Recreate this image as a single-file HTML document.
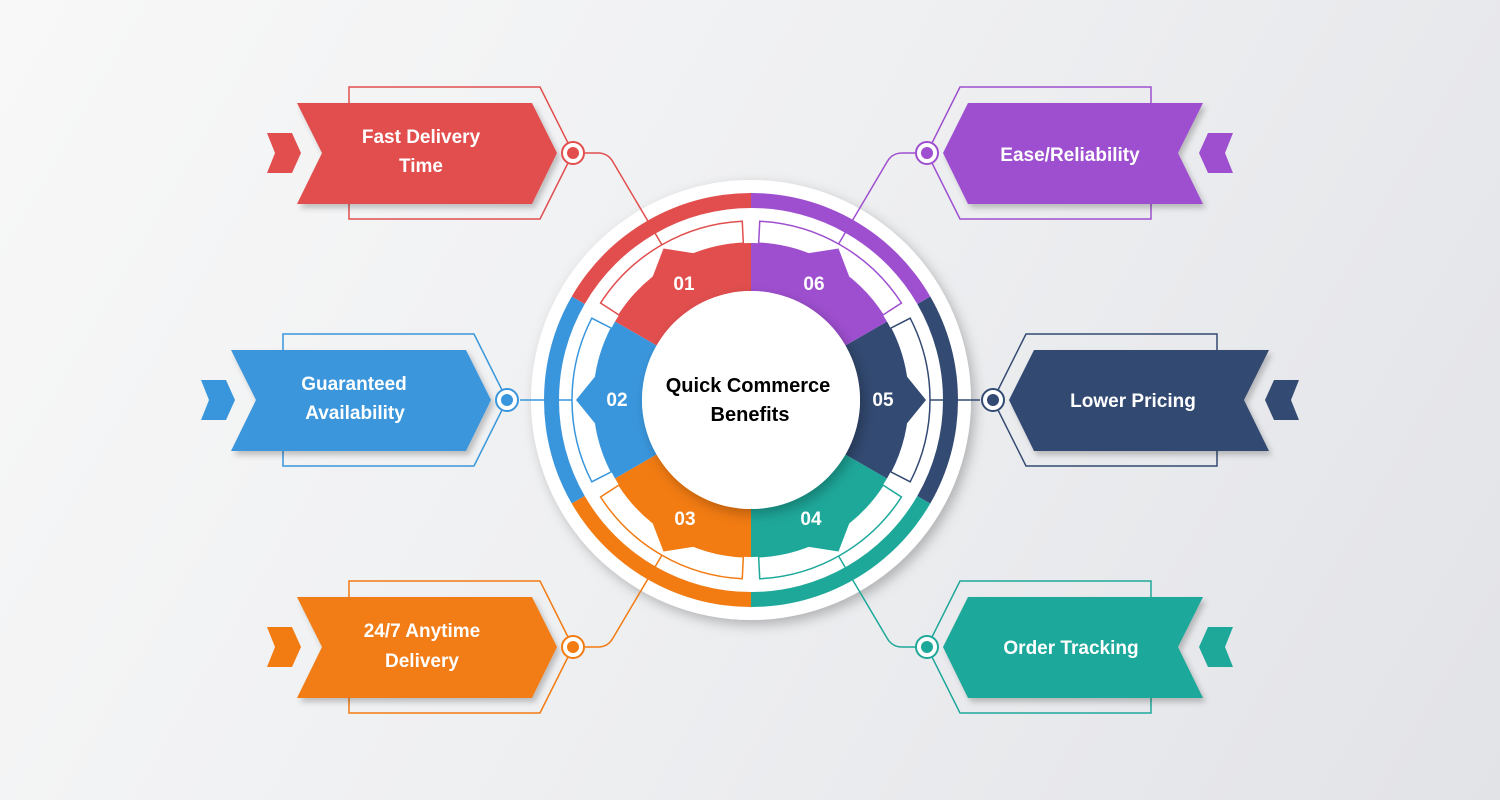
<!DOCTYPE html>
<html><head><meta charset="utf-8">
<style>
html,body{margin:0;padding:0;width:1500px;height:800px;overflow:hidden}
body{background:linear-gradient(120deg,#f8f8f8 0%,#eeeff1 50%,#e2e3e7 100%)}
svg{position:absolute;left:0;top:0}
text{font-family:"Liberation Sans",Arial,sans-serif;font-weight:bold}
</style></head><body>
<svg id="s" width="1500" height="800" viewBox="0 0 1500 800">
<defs>
<filter id="sh" x="-20%" y="-20%" width="140%" height="150%"><feDropShadow dx="3" dy="4" stdDeviation="3" flood-color="#000" flood-opacity="0.22"/></filter>
<filter id="shm" x="-20%" y="-20%" width="140%" height="150%"><feDropShadow dx="-3" dy="4" stdDeviation="3" flood-color="#000" flood-opacity="0.22"/></filter>
<filter id="sh2" x="-20%" y="-20%" width="140%" height="140%"><feDropShadow dx="4" dy="5" stdDeviation="6" flood-color="#000" flood-opacity="0.25"/></filter>
</defs>
<circle cx="751" cy="400" r="220" fill="#fff" filter="url(#sh2)"/>
<g id="lines" fill="none" stroke-width="1.5">
<path d="M585,153 L598,153 Q608,153 613,162 L665,250" stroke="#e24e4e"/>
<path d="M915,153 L902,153 Q892,153 887,162 L835,250" stroke="#9e4fcf"/>
<path d="M585,647 L598,647 Q608,647 613,638 L665,550" stroke="#f27b12"/>
<path d="M915,647 L902,647 Q892,647 887,638 L835,550" stroke="#1ea89a"/>
<path d="M520,400 L600,400" stroke="#3a96dc"/>
<path d="M980,400 L900,400" stroke="#334a72"/>
</g>
<g id="ring"></g>
<g id="outl" fill="#fff" stroke-width="1.5"></g>
<g id="sect"></g>
<circle cx="751" cy="400" r="109" fill="#fff" filter="url(#sh2)"/>
<g font-size="19" fill="#fff" text-anchor="middle">
<text x="684" y="290">01</text>
<text x="617" y="406">02</text>
<text x="685" y="525">03</text>
<text x="811" y="525">04</text>
<text x="883" y="406">05</text>
<text x="814" y="290">06</text>
</g>
<g font-size="20" fill="#000" text-anchor="middle">
<text x="748" y="392">Quick Commerce</text>
<text x="750" y="421">Benefits</text>
</g>

<g>
<polygon points="349,87 540,87 573,153 540,219 349,219" fill="none" stroke="#e24e4e" stroke-width="1.5"/>
<polygon points="267,133 292,133 301,153 292,173 267,173 275,153" fill="#e24e4e"/>
<polygon points="297,103 532,103 557,153 532,204 297,204 322,153" fill="#e24e4e" filter="url(#sh)"/>
<circle cx="573" cy="153" r="11" fill="#fff" stroke="#e24e4e" stroke-width="2"/><circle cx="573" cy="153" r="6" fill="#e24e4e"/>
</g>
<g transform="translate(-66,247)">
<polygon points="349,87 540,87 573,153 540,219 349,219" fill="none" stroke="#3a96dc" stroke-width="1.5"/>
<polygon points="267,133 292,133 301,153 292,173 267,173 275,153" fill="#3a96dc"/>
<polygon points="297,103 532,103 557,153 532,204 297,204 322,153" fill="#3a96dc" filter="url(#sh)"/>
<circle cx="573" cy="153" r="11" fill="#fff" stroke="#3a96dc" stroke-width="2"/><circle cx="573" cy="153" r="6" fill="#3a96dc"/>
</g>
<g transform="translate(0,494)">
<polygon points="349,87 540,87 573,153 540,219 349,219" fill="none" stroke="#f27b12" stroke-width="1.5"/>
<polygon points="267,133 292,133 301,153 292,173 267,173 275,153" fill="#f27b12"/>
<polygon points="297,103 532,103 557,153 532,204 297,204 322,153" fill="#f27b12" filter="url(#sh)"/>
<circle cx="573" cy="153" r="11" fill="#fff" stroke="#f27b12" stroke-width="2"/><circle cx="573" cy="153" r="6" fill="#f27b12"/>
</g>
<g transform="translate(1500,0) scale(-1,1)">
<polygon points="349,87 540,87 573,153 540,219 349,219" fill="none" stroke="#9e4fcf" stroke-width="1.5"/>
<polygon points="267,133 292,133 301,153 292,173 267,173 275,153" fill="#9e4fcf"/>
<polygon points="297,103 532,103 557,153 532,204 297,204 322,153" fill="#9e4fcf" filter="url(#shm)"/>
<circle cx="573" cy="153" r="11" fill="#fff" stroke="#9e4fcf" stroke-width="2"/><circle cx="573" cy="153" r="6" fill="#9e4fcf"/>
</g>
<g transform="translate(1566,247) scale(-1,1)">
<polygon points="349,87 540,87 573,153 540,219 349,219" fill="none" stroke="#334a72" stroke-width="1.5"/>
<polygon points="267,133 292,133 301,153 292,173 267,173 275,153" fill="#334a72"/>
<polygon points="297,103 532,103 557,153 532,204 297,204 322,153" fill="#334a72" filter="url(#shm)"/>
<circle cx="573" cy="153" r="11" fill="#fff" stroke="#334a72" stroke-width="2"/><circle cx="573" cy="153" r="6" fill="#334a72"/>
</g>
<g transform="translate(1500,494) scale(-1,1)">
<polygon points="349,87 540,87 573,153 540,219 349,219" fill="none" stroke="#1ea89a" stroke-width="1.5"/>
<polygon points="267,133 292,133 301,153 292,173 267,173 275,153" fill="#1ea89a"/>
<polygon points="297,103 532,103 557,153 532,204 297,204 322,153" fill="#1ea89a" filter="url(#shm)"/>
<circle cx="573" cy="153" r="11" fill="#fff" stroke="#1ea89a" stroke-width="2"/><circle cx="573" cy="153" r="6" fill="#1ea89a"/>
</g>

<g font-size="19" fill="#fff" text-anchor="middle">
<text x="421" y="143">Fast Delivery</text>
<text x="421" y="172">Time</text>
<text x="354" y="390">Guaranteed</text>
<text x="355" y="419">Availability</text>
<text x="422" y="637">24/7 Anytime</text>
<text x="422" y="667">Delivery</text>
<text x="1070" y="161">Ease/Reliability</text>
<text x="1133" y="407">Lower Pricing</text>
<text x="1071" y="654">Order Tracking</text>
</g>
</svg>
<script>
(function(){
var cx=751,cy=400,NS="http://www.w3.org/2000/svg";
function P(r,a){a=a*Math.PI/180;return [(cx+r*Math.cos(a)).toFixed(2),(cy-r*Math.sin(a)).toFixed(2)];}
function ann(r1,r2,a1,a2){var p1=P(r2,a1),p2=P(r2,a2),p3=P(r1,a2),p4=P(r1,a1);
return "M"+p1+" A"+r2+","+r2+" 0 0 0 "+p2+" L"+p3+" A"+r1+","+r1+" 0 0 1 "+p4+" Z";}
function sect(a1,a2){var m=(a1+a2)/2,r1=109,r2=157;
var p1=P(r2,a1),s1=P(r2,m-9),t=P(175,m),s2=P(r2,m+9),p2=P(r2,a2),p3=P(r1,a2),p4=P(r1,a1);
return "M"+p1+" A"+r2+","+r2+" 0 0 0 "+s1+" L"+t+" L"+s2+" A"+r2+","+r2+" 0 0 0 "+p2+" L"+p3+" A"+r1+","+r1+" 0 0 1 "+p4+" Z";}
var S=[["#e24e4e",90,150],["#3a96dc",150,210],["#f27b12",210,270],["#1ea89a",270,330],["#334a72",330,390],["#9e4fcf",30,90]];
function add(g,d,attrs){var e=document.createElementNS(NS,"path");e.setAttribute("d",d);for(var k in attrs)e.setAttribute(k,attrs[k]);document.getElementById(g).appendChild(e);}
S.forEach(function(s){
add("ring",ann(192,207,s[1],s[2]),{fill:s[0]});
add("outl",ann(157,179,s[1]+2.8,s[2]-2.8),{stroke:s[0]});
add("sect",sect(s[1],s[2]),{fill:s[0]});
});
})();
</script>
</body></html>
